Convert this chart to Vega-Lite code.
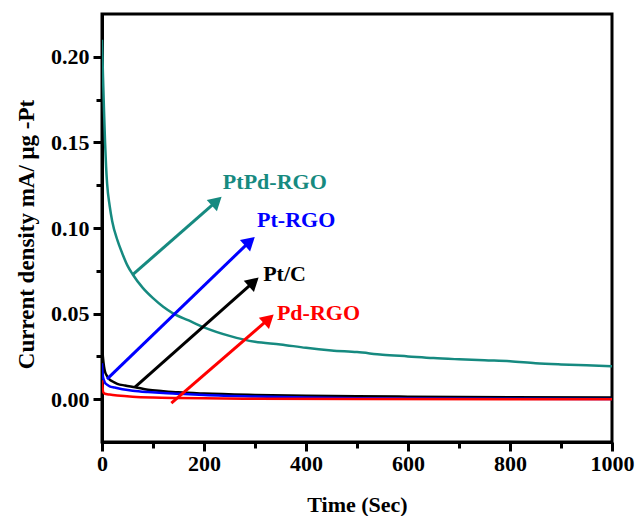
{
  "$schema": "https://vega.github.io/schema/vega-lite/v6.json",
  "width": 510,
  "height": 428,
  "autosize": "none",
  "padding": {"left": 102, "top": 14, "right": 24, "bottom": 74},
  "background": "white",
  "config": {
    "view": {"stroke": "black", "strokeWidth": 3},
    "font": "Liberation Serif",
    "axis": {
      "labelFont": "Liberation Serif",
      "labelFontWeight": "bold",
      "labelFontSize": 22,
      "labelColor": "black",
      "titleFont": "Liberation Serif",
      "titleFontWeight": "bold",
      "titleFontSize": 22,
      "titleColor": "black",
      "domainColor": "black",
      "domainWidth": 3,
      "tickColor": "black",
      "tickWidth": 3,
      "grid": false
    }
  },
  "datasets": {
    "curves": [
      {"series": "PtPd-RGO", "t": 0, "j": 0.210},
      {"series": "PtPd-RGO", "t": 2, "j": 0.188},
      {"series": "PtPd-RGO", "t": 4, "j": 0.168},
      {"series": "PtPd-RGO", "t": 6, "j": 0.150},
      {"series": "PtPd-RGO", "t": 8, "j": 0.136},
      {"series": "PtPd-RGO", "t": 10, "j": 0.126},
      {"series": "PtPd-RGO", "t": 15, "j": 0.113},
      {"series": "PtPd-RGO", "t": 20, "j": 0.104},
      {"series": "PtPd-RGO", "t": 30, "j": 0.093},
      {"series": "PtPd-RGO", "t": 40, "j": 0.085},
      {"series": "PtPd-RGO", "t": 50, "j": 0.078},
      {"series": "PtPd-RGO", "t": 60, "j": 0.073},
      {"series": "PtPd-RGO", "t": 80, "j": 0.065},
      {"series": "PtPd-RGO", "t": 100, "j": 0.059},
      {"series": "PtPd-RGO", "t": 120, "j": 0.054},
      {"series": "PtPd-RGO", "t": 140, "j": 0.050},
      {"series": "PtPd-RGO", "t": 170, "j": 0.046},
      {"series": "PtPd-RGO", "t": 200, "j": 0.042},
      {"series": "PtPd-RGO", "t": 250, "j": 0.037},
      {"series": "PtPd-RGO", "t": 300, "j": 0.0335},
      {"series": "PtPd-RGO", "t": 350, "j": 0.032},
      {"series": "PtPd-RGO", "t": 400, "j": 0.030},
      {"series": "PtPd-RGO", "t": 450, "j": 0.0285},
      {"series": "PtPd-RGO", "t": 500, "j": 0.0275},
      {"series": "PtPd-RGO", "t": 550, "j": 0.026},
      {"series": "PtPd-RGO", "t": 600, "j": 0.025},
      {"series": "PtPd-RGO", "t": 650, "j": 0.024},
      {"series": "PtPd-RGO", "t": 700, "j": 0.0233},
      {"series": "PtPd-RGO", "t": 750, "j": 0.0227},
      {"series": "PtPd-RGO", "t": 800, "j": 0.0222},
      {"series": "PtPd-RGO", "t": 850, "j": 0.021},
      {"series": "PtPd-RGO", "t": 900, "j": 0.0203},
      {"series": "PtPd-RGO", "t": 950, "j": 0.0198},
      {"series": "PtPd-RGO", "t": 1000, "j": 0.0193},
      {"series": "Pt/C", "t": 0, "j": 0.035},
      {"series": "Pt/C", "t": 1, "j": 0.028},
      {"series": "Pt/C", "t": 2, "j": 0.024},
      {"series": "Pt/C", "t": 4, "j": 0.019},
      {"series": "Pt/C", "t": 6, "j": 0.016},
      {"series": "Pt/C", "t": 10, "j": 0.0135},
      {"series": "Pt/C", "t": 15, "j": 0.0115},
      {"series": "Pt/C", "t": 20, "j": 0.0105},
      {"series": "Pt/C", "t": 30, "j": 0.009},
      {"series": "Pt/C", "t": 45, "j": 0.008},
      {"series": "Pt/C", "t": 65, "j": 0.007},
      {"series": "Pt/C", "t": 90, "j": 0.0055},
      {"series": "Pt/C", "t": 120, "j": 0.0047},
      {"series": "Pt/C", "t": 150, "j": 0.004},
      {"series": "Pt/C", "t": 200, "j": 0.0033},
      {"series": "Pt/C", "t": 300, "j": 0.0025},
      {"series": "Pt/C", "t": 400, "j": 0.002},
      {"series": "Pt/C", "t": 500, "j": 0.0017},
      {"series": "Pt/C", "t": 600, "j": 0.0015},
      {"series": "Pt/C", "t": 800, "j": 0.0012},
      {"series": "Pt/C", "t": 1000, "j": 0.001},
      {"series": "Pt-RGO", "t": 0, "j": 0.021},
      {"series": "Pt-RGO", "t": 1, "j": 0.016},
      {"series": "Pt-RGO", "t": 2, "j": 0.013},
      {"series": "Pt-RGO", "t": 4, "j": 0.011},
      {"series": "Pt-RGO", "t": 6, "j": 0.0095},
      {"series": "Pt-RGO", "t": 10, "j": 0.0085},
      {"series": "Pt-RGO", "t": 15, "j": 0.0075},
      {"series": "Pt-RGO", "t": 25, "j": 0.0068},
      {"series": "Pt-RGO", "t": 40, "j": 0.0058},
      {"series": "Pt-RGO", "t": 60, "j": 0.005},
      {"series": "Pt-RGO", "t": 90, "j": 0.0042},
      {"series": "Pt-RGO", "t": 120, "j": 0.0036},
      {"series": "Pt-RGO", "t": 150, "j": 0.0032},
      {"series": "Pt-RGO", "t": 200, "j": 0.0025},
      {"series": "Pt-RGO", "t": 300, "j": 0.0016},
      {"series": "Pt-RGO", "t": 400, "j": 0.001},
      {"series": "Pt-RGO", "t": 500, "j": 0.0006},
      {"series": "Pt-RGO", "t": 600, "j": 0.0004},
      {"series": "Pt-RGO", "t": 800, "j": 0.0002},
      {"series": "Pt-RGO", "t": 1000, "j": 0.0001},
      {"series": "Pd-RGO", "t": 0, "j": 0.011},
      {"series": "Pd-RGO", "t": 1, "j": 0.007},
      {"series": "Pd-RGO", "t": 2, "j": 0.0045},
      {"series": "Pd-RGO", "t": 4, "j": 0.0035},
      {"series": "Pd-RGO", "t": 8, "j": 0.003},
      {"series": "Pd-RGO", "t": 15, "j": 0.0027},
      {"series": "Pd-RGO", "t": 30, "j": 0.0022},
      {"series": "Pd-RGO", "t": 60, "j": 0.0015},
      {"series": "Pd-RGO", "t": 100, "j": 0.001},
      {"series": "Pd-RGO", "t": 150, "j": 0.0007},
      {"series": "Pd-RGO", "t": 200, "j": 0.0005},
      {"series": "Pd-RGO", "t": 300, "j": 0.0003},
      {"series": "Pd-RGO", "t": 500, "j": 0.0001},
      {"series": "Pd-RGO", "t": 1000, "j": 0.0}
    ],
    "arrows": [
      {"series": "PtPd-RGO", "t0": 60.8, "j0": 0.0729, "t1": 224.9, "j1": 0.1157},
      {"series": "Pt-RGO", "t0": 9.8, "j0": 0.0117, "t1": 290, "j1": 0.0922},
      {"series": "Pt/C", "t0": 64.7, "j0": 0.0070, "t1": 297.5, "j1": 0.0685},
      {"series": "Pd-RGO", "t0": 136, "j0": -0.0023, "t1": 327, "j1": 0.0469}
    ],
    "labels": [
      {"series": "PtPd-RGO", "t": 237, "j": 0.1266},
      {"series": "Pt-RGO", "t": 304, "j": 0.1044},
      {"series": "Pt/C", "t": 316, "j": 0.0729},
      {"series": "Pd-RGO", "t": 343, "j": 0.0502}
    ]
  },
  "layer": [
    {
      "data": {"name": "curves"},
      "mark": {"type": "line", "strokeWidth": 2.5, "clip": true, "interpolate": "monotone"},
      "encoding": {
        "x": {
          "field": "t", "type": "quantitative",
          "scale": {"domain": [0, 1000], "nice": false},
          "axis": {
            "title": "Time (Sec)",
            "values": [0, 100, 200, 300, 400, 500, 600, 700, 800, 900, 1000],
            "labelExpr": "datum.value % 200 == 0 ? format(datum.value, 'd') : ''",
            "tickSize": {"condition": {"test": "datum.value % 200 == 0", "value": 9}, "value": 6},
            "labelPadding": 2,
            "titlePadding": 20,
            "labelFlush": false
          }
        },
        "y": {
          "field": "j", "type": "quantitative",
          "scale": {"domain": [-0.025, 0.225], "nice": false, "zero": false},
          "axis": {
            "title": "Current density mA/ μg -Pt",
            "titleFontSize": 23,
            "titleY": 220,
            "values": [0, 0.025, 0.05, 0.075, 0.1, 0.125, 0.15, 0.175, 0.2],
            "labelExpr": "abs(datum.value * 20 - round(datum.value * 20)) < 0.001 ? format(datum.value, '.2f') : ''",
            "tickSize": {"condition": {"test": "abs(datum.value * 20 - round(datum.value * 20)) < 0.001", "value": 9}, "value": 6},
            "labelPadding": 4,
            "titlePadding": 12
          }
        },
        "color": {
          "field": "series", "type": "nominal",
          "scale": {"domain": ["PtPd-RGO", "Pt-RGO", "Pt/C", "Pd-RGO"], "range": ["#168a80", "#0000ff", "#000000", "#ff0000"]},
          "legend": null
        },
        "detail": {"field": "series"}
      }
    },
    {
      "data": {"name": "arrows"},
      "mark": {"type": "rule", "strokeWidth": 3},
      "encoding": {
        "x": {"field": "t0", "type": "quantitative"},
        "y": {"field": "j0", "type": "quantitative"},
        "x2": {"field": "t1"},
        "y2": {"field": "j1"},
        "color": {"field": "series", "type": "nominal", "legend": null}
      }
    },
    {
      "data": {"name": "arrows"},
      "mark": {"type": "point", "shape": "triangle-up", "filled": true, "opacity": 1, "size": 230, "angle": 48},
      "encoding": {
        "x": {"field": "t1", "type": "quantitative"},
        "y": {"field": "j1", "type": "quantitative"},
        "color": {"field": "series", "type": "nominal", "legend": null}
      }
    },
    {
      "data": {"name": "labels"},
      "mark": {"type": "text", "align": "left", "baseline": "middle", "font": "Liberation Serif", "fontWeight": "bold", "fontSize": 22},
      "encoding": {
        "x": {"field": "t", "type": "quantitative"},
        "y": {"field": "j", "type": "quantitative"},
        "text": {"field": "series"},
        "color": {"field": "series", "type": "nominal", "legend": null}
      }
    }
  ]
}
